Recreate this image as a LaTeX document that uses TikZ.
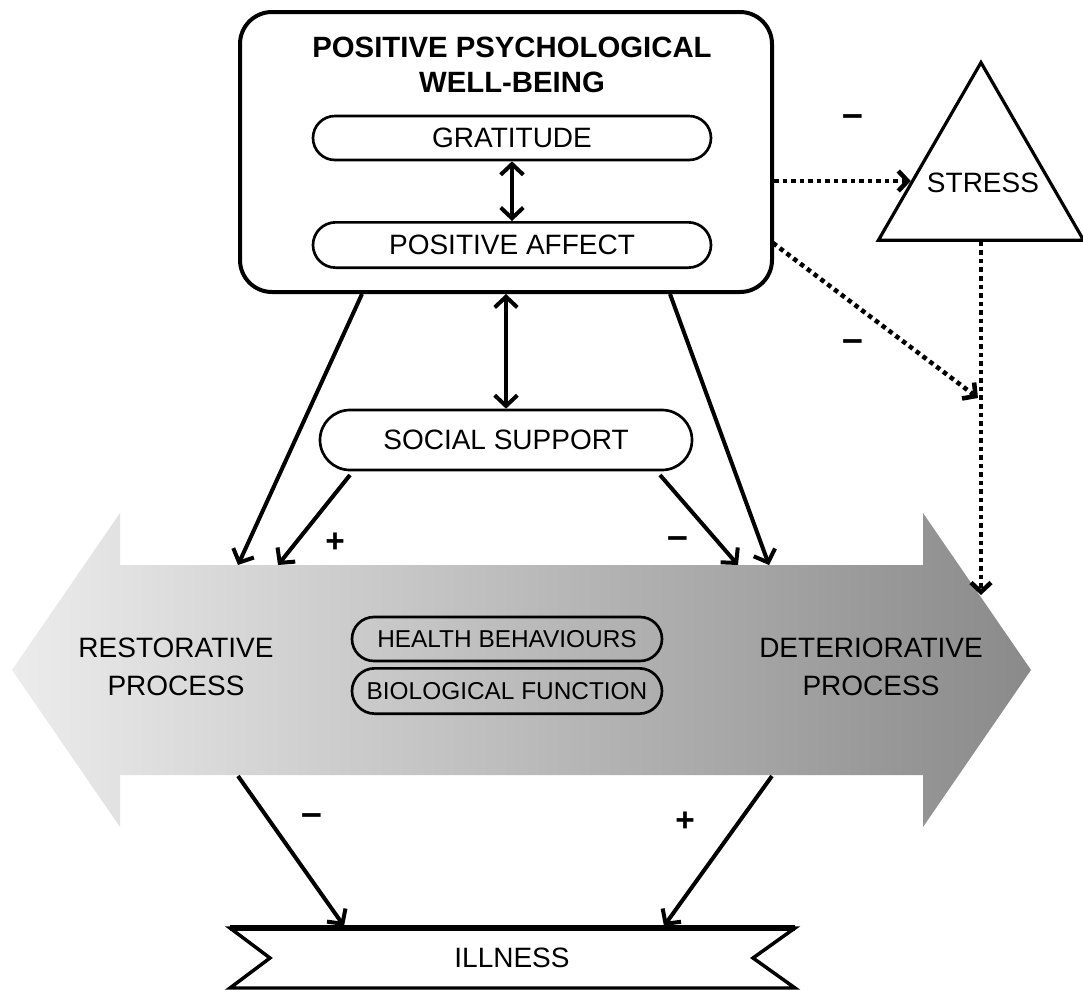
\documentclass[tikz,border=0pt]{standalone}
\usepackage{fontspec}
\setmainfont{Liberation Sans}
\usetikzlibrary{arrows.meta,shapes.misc,shapes.geometric}
\begin{document}
\begin{tikzpicture}[x=0.75pt,y=-0.75pt,
  txt/.style={font=\fontsize{21}{28.5}\selectfont, align=center, inner sep=0pt},
  pill/.style={rounded rectangle, draw, line width=2pt, minimum height=33pt, inner sep=0pt, font=\fontsize{21}{26}\selectfont},
  smallpill/.style={pill, font=\fontsize{18.3}{22}\selectfont},
  solidarr/.style={line width=3pt, -{Straight Barb[length=8pt,width=17pt]}},
  dblarr/.style={line width=3pt, {Straight Barb[length=8pt,width=17pt]}-{Straight Barb[length=8pt,width=17pt]}},
  dotarr/.style={line width=3.4pt, dash pattern=on 3.4pt off 3pt, -{Straight Barb[length=7pt,width=15pt]}},
  sign/.style={font=\bfseries\fontsize{25}{25}\selectfont, inner sep=0pt},
  minus/.style={font=\bfseries\fontsize{28}{28}\selectfont, inner sep=0pt}
]
\useasboundingbox (0,0) rectangle (1083,990);

% big double arrow
\shade[left color={rgb,255:red,236;green,236;blue,236}, right color={rgb,255:red,138;green,138;blue,138}]
  (12,670) -- (120,513) -- (120,565) -- (923,565) -- (923,513) -- (1031,670)
  -- (923,827) -- (923,775) -- (120,775) -- (120,827) -- cycle;

% top box
\node[draw, line width=3pt, rounded corners=24pt, minimum width=399pt, minimum height=210pt] (ppwb) at (506,152) {};
\node[font=\bfseries\fontsize{22}{26}\selectfont, align=center, inner sep=0pt] (title) at (512,65) {POSITIVE PSYCHOLOGICAL\\WELL-BEING};
\node[pill, minimum width=298.5pt] (grat) at (512,138) {GRATITUDE};
\node[pill, minimum width=298.5pt, minimum height=34pt] (aff) at (512,245) {POSITIVE AFFECT};
\draw[dblarr] (grat.south) -- (aff.north);

% social support
\node[pill, minimum width=279pt, minimum height=45pt] (soc) at (506,440) {SOCIAL SUPPORT};
\draw[dblarr] (ppwb.south) -- (soc.north);

% stress
\node[regular polygon, regular polygon sides=3, draw, line width=2.4pt, minimum size=177.75pt, inner sep=0pt] (stress) at (981,181) {};
\node[txt] (stresslbl) at (983,183) {STRESS};

% inner pills in big arrow
\node[smallpill, minimum width=232.5pt, minimum height=33pt] (hb) at (507,639) {HEALTH BEHAVIOURS};
\node[smallpill, minimum width=232.5pt, minimum height=34pt] (bf) at (507,691) {BIOLOGICAL FUNCTION};

\node[txt] (rest) at (176,667) {RESTORATIVE\\PROCESS};
\node[txt] (det) at (871,667) {DETERIORATIVE\\PROCESS};

% illness banner
\draw[line width=2.6pt, fill=white, line join=miter] (230,928) -- (795,928) -- (753,958) -- (795,988) -- (230,988) -- (270,958) -- cycle;
\draw[line width=4pt] (230,928) -- (795,928);
\node[txt] (ill) at (512,958) {ILLNESS};

% coordinates
\coordinate (b1) at (362,294);
\coordinate (b2) at (670,294);
\coordinate (s1) at (350,475);
\coordinate (s2) at (660,475);
\coordinate (r1) at (238,565);
\coordinate (r2) at (278,565);
\coordinate (d1) at (738,565);
\coordinate (d2) at (769,565);
\coordinate (rb) at (238,776);
\coordinate (db) at (772,776);
\coordinate (i1) at (344,926);
\coordinate (i2) at (664,926);
\coordinate (dgs) at (773,243);
\coordinate (dge) at (978,398);
\coordinate (ste) at (981,595);

\draw[solidarr] (b1) -- (r1);
\draw[solidarr] (s1) -- (r2);
\draw[solidarr] (s2) -- (d1);
\draw[solidarr] (b2) -- (d2);
\draw[solidarr] (rb) -- (i1);
\draw[solidarr] (db) -- (i2);

\draw[dotarr] (ppwb.east |- stress.center) -- (stress);
\draw[dotarr] (dgs) -- (dge);
\draw[dotarr] (stress.south) -- (ste);

% signs
\node[sign] (p1) at (335,543) {+};
\node[minus] (m1) at (678,543) {–};
\node[minus] (m2) at (312,820) {–};
\node[sign] (p2) at (685,822) {+};
\node[minus] (m3) at (853,121) {–};
\node[minus] (m4) at (853,346) {–};
\end{tikzpicture}
\end{document}
